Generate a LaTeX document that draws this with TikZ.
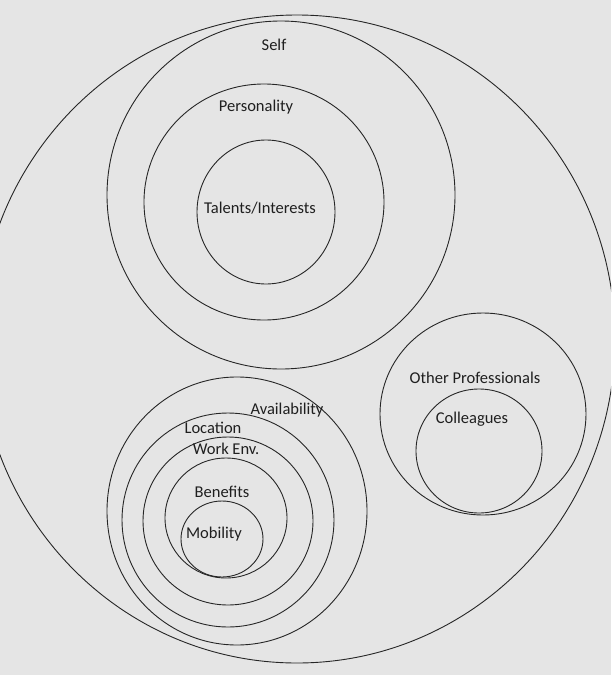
\documentclass[tikz,border=0pt]{standalone}
\usepackage{fontspec}
\setmainfont{Carlito}
\begin{document}
\begin{tikzpicture}[x=1pt,y=-1pt,
  ring/.style={draw=black!85, line width=0.9pt},
  lbl/.style={font=\fontsize{16.5}{18}\selectfont, text=black!88, inner sep=0pt}]
\useasboundingbox (0,0) rectangle (611,675);
\fill[black!10] (0,0) rectangle (611,675);
\begin{scope}
\clip (0,0) rectangle (611,675);
% outer
\draw[ring] (297,339) ellipse [x radius=318pt, y radius=324pt];
% self group
\draw[ring] (281,195) ellipse [x radius=174pt, y radius=174pt];
\draw[ring] (264,202) ellipse [x radius=120pt, y radius=118pt];
\draw[ring] (266,212) ellipse [x radius=69pt, y radius=72pt];
% professionals
\draw[ring] (483,414) ellipse [x radius=103pt, y radius=101pt];
\draw[ring] (479,451) ellipse [x radius=63pt, y radius=62pt];
% work group
\draw[ring] (237,511) ellipse [x radius=130pt, y radius=134pt];
\draw[ring] (228,520) ellipse [x radius=106pt, y radius=107pt];
\draw[ring] (228,521) ellipse [x radius=85pt, y radius=84pt];
\draw[ring] (226,518) ellipse [x radius=61pt, y radius=60pt];
\draw[ring] (222,539) ellipse [x radius=41pt, y radius=38pt];
\end{scope}
\node[lbl] (self) at (274,45) {Self};
\node[lbl] (pers) at (256,107) {Personality};
\node[lbl] (tal) at (260,208) {Talents/Interests};
\node[lbl] (op) at (475,378) {Other Professionals};
\node[lbl] (col) at (472,419) {Colleagues};
\node[lbl] (av) at (287,410) {Availability};
\node[lbl] (loc) at (213,428) {Location};
\node[lbl] (we) at (226,449) {Work Env.};
\node[lbl] (ben) at (222,492) {Benefits};
\node[lbl] (mob) at (214,534) {Mobility};
\end{tikzpicture}
\end{document}
